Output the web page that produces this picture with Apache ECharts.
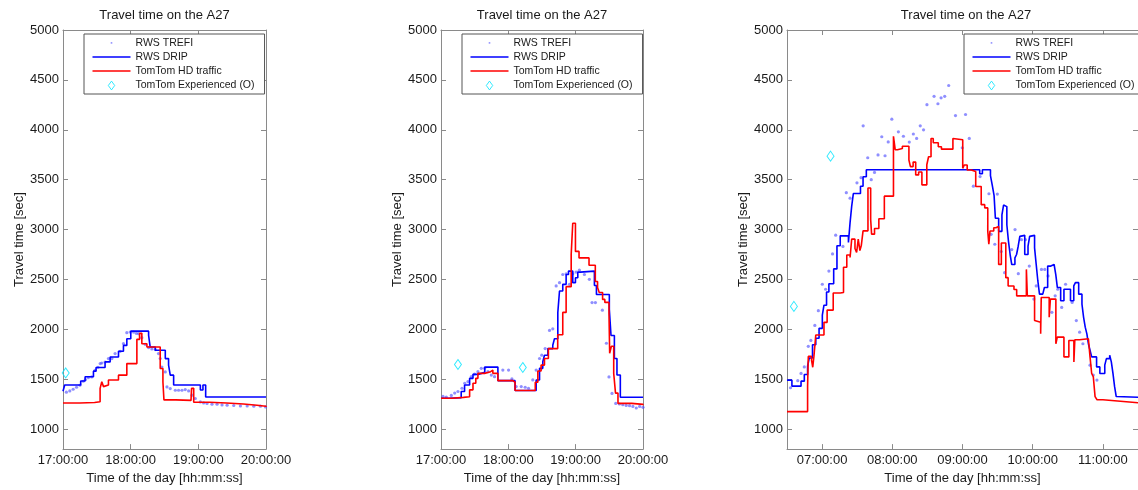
<!DOCTYPE html>
<html>
<head>
<meta charset="utf-8">
<title>Travel time on the A27</title>
<script src="https://cdn.jsdelivr.net/npm/echarts/dist/echarts.min.js"></script>
<style>
  html, body { margin: 0; padding: 0; background: #fff; }
  #chart { width: 1138px; height: 490px; }
</style>
</head>
<body>
<div id="chart"></div>
<script>
// Travel time on the A27: three time windows, four sources each.
// Times are minutes after the window start, values are travel times in seconds.

const seriesNames = ['RWS TREFI', 'RWS DRIP', 'TomTom HD traffic', 'TomTom Experienced (O)'];
const yTicks = [1000, 1500, 2000, 2500, 3000, 3500, 4000, 4500, 5000];

// ---- Window 1: 17:00 - 20:00 ----
const p1Window = ['17:00', '20:00'];
const p1Ticks = ['17:00', '18:00', '19:00', '20:00'];
const p1Trefi = [
  [3,1370],[6,1383],[9,1400],[12,1420],[15,1440],[18,1480],[20,1497],[22.5,1517],[25.5,1523],
  [28.4,1590],[31,1620],[33,1657],[34.4,1663],[37.3,1673],[40.3,1707],[43.3,1707],[46.2,1757],
  [50.7,1780],[53.6,1857],[56.6,1967],[59.6,1973],[62.5,1973],[65,1960],[67,1957],[69.9,1917],
  [72.9,1850],[75.9,1817],[78.8,1803],[81.8,1797],[84.7,1757],[86.2,1707],[87.7,1623],[90.7,1573],
  [92.2,1423],[95.1,1407],[99.6,1390],[102.5,1390],[105.5,1390],[108.4,1397],[111.4,1383],
  [114.4,1340],[117.3,1307],[121.8,1273],[124.7,1263],[127.7,1257],[132.1,1250],[136.6,1250],
  [141,1243],[145.5,1240],[151.4,1237],[157.3,1233],[163.3,1233],[169.2,1230],[175.1,1230],[179.6,1223]
];
const p1Drip = [
  [0,1380],[1.5,1442],[15.7,1482],[19.6,1525],[27,1581],[29.3,1618],[37.3,1674],[41.8,1723],
  [49.2,1780],[53.6,1839],[56.6,1906],[60.1,1982],[75.9,1940],[77.3,1823],[81.8,1790],[90.7,1707],
  [93.6,1641],[95.1,1541],[98.1,1442],[121.8,1392],[124.1,1442],[126.5,1322],[180,1322]
];
const p1HdTraffic = [
  [0,1262],[15,1267],[28,1275],[32.9,1409],[34.4,1475],[35.9,1426],[37.3,1442],[40.3,1492],
  [49.2,1541],[56.6,1657],[65.5,1900],[67.9,1960],[69.9,1856],[74.4,1823],[86.2,1608],[88.6,1473],
  [89.5,1293],[100,1288],[113.5,1278],[114,1409],[115.9,1270],[130,1262],[145,1252],[160,1240],
  [172,1230],[180,1222]
];
const p1Experienced = [[2.4,1563]];

// ---- Window 2: 17:00 - 20:00 ----
const p2Window = ['17:00', '20:00'];
const p2Ticks = ['17:00', '18:00', '19:00', '20:00'];
const p2Trefi = [
  [1.8,1328],[4.7,1321],[9.2,1338],[12.2,1361],[15.1,1377],[18.7,1410],[21.1,1460],[24,1476],
  [27,1526],[29.9,1552],[32.9,1576],[35.9,1609],[38.8,1609],[41.8,1576],[44.8,1542],[47.7,1526],
  [55.1,1592],[60.2,1592],[63.2,1503],[67,1427],[71.5,1427],[75,1420],[78,1410],[81.8,1493],
  [84.8,1592],[87.8,1708],[89.8,1741],[92.8,1807],[96.7,1989],[99.6,2005],[102.6,2435],[105.6,2468],
  [108.5,2550],[111.5,2557],[114.5,2451],[117.4,2557],[120.4,2574],[123.3,2593],[127.8,2550],
  [132.2,2501],[134.6,2268],[137.6,2268],[143.8,2192],[147.4,1861],[149.7,1523],[152.4,1358],
  [155.7,1258],[159,1252],[162,1245],[165,1238],[168,1235],[171,1228],[174,1212],[177,1228],[180,1219]
];
const p2Drip = [
  [0,1310],[7,1315],[18,1377],[21,1443],[25.5,1509],[28.5,1549],[33,1569],[39,1622],[50.7,1486],
  [66,1387],[84.8,1493],[87.8,1609],[90.7,1675],[92.2,1741],[95.2,1807],[99.6,1840],[101.1,1906],
  [104.1,2170],[105.6,2385],[108.5,2451],[111.5,2550],[113.6,2584],[117.4,2468],[119.8,2517],
  [121.9,2574],[124.2,2584],[136.7,2440],[138.5,2350],[150,2200],[151.5,1939],[154.5,1708],
  [156.8,1542],[159.8,1320],[180,1320]
];
const p2HdTraffic = [
  [0,1310],[10,1318],[20,1325],[25.5,1394],[28.5,1460],[31,1509],[32.9,1559],[38.8,1576],
  [44.2,1592],[46.2,1559],[50.7,1486],[64,1470],[66,1387],[84,1470],[86.3,1582],[89.2,1642],
  [92.2,1708],[95.7,1807],[104,1946],[108.5,2170],[111.5,2428],[116,2749],[117.4,3063],
  [119.8,2781],[123,2716],[131.9,2642],[137.5,2480],[139.5,2420],[141,2370],[144,2300],[146,2270],
  [149.7,2152],[150.3,1760],[151.8,1830],[153.9,1559],[155.5,1361],[157.7,1258],[170,1248],[180,1240]
];
const p2Experienced = [[15.1,1648],[72.9,1618]];

// ---- Window 3: 06:30 - 11:30 ----
const p3Window = ['06:30', '11:30'];
const p3Ticks = ['07:00', '08:00', '09:00', '10:00', '11:00'];
const p3Trefi = [
  [3,1415],[9.2,1486],[12,1558],[14.8,1624],[18.2,1830],[20.4,1889],[23.8,2039],[26.8,2187],
  [30.2,2452],[33,2402],[35.8,2584],[38.9,2756],[41.6,2944],[47.8,2831],[50.7,3370],[53.9,3315],
  [59.8,3468],[63.3,3520],[65.1,4040],[69,3720],[72,3500],[74.8,3573],[77.8,3748],[81,3930],
  [83.8,3740],[86.5,3878],[89.6,4106],[95.2,3980],[99.5,3935],[104.5,3877],[108,3958],[110.8,3913],
  [113.9,4040],[116.7,4000],[119.6,4252],[125.7,4335],[129,4261],[131.7,4320],[134.8,4335],
  [138.2,4444],[144,4142],[149.8,3820],[152.6,4153],[155.8,3913],[159.3,3435],[165,3531],
  [172.6,3359],[174.5,2952],[177.6,2853],[179.8,3356],[183.1,2780],[186,2568],[192.1,2800],
  [194.9,3000],[197.7,2558],[200.4,2899],[203.8,2899],[207.1,2634],[211,2303],[213,2435],
  [217.5,2601],[220.3,2601],[223.1,2535],[226.4,2171],[229.2,2336],[231.4,2402],[234.8,2220],
  [238.1,2452],[243.7,2270],[247.3,2088],[250.1,1972],[252.9,1856],[259,1641],[261.8,1542],[264.9,1492]
];
const p3Drip = [
  [0,1491],[4.2,1431],[12,1481],[14.8,1547],[17.6,1630],[19,1713],[21.8,1845],[24.6,1911],
  [27.4,2010],[30.2,2143],[31.6,2242],[33.8,2375],[35.8,2457],[39.9,2606],[42.7,2838],[45.5,2937],
  [52.5,2871],[53.9,3070],[55.3,3235],[56.7,3361],[62.8,3434],[65,3530],[67.8,3600],[164.7,3560],
  [167,3600],[173.9,3540],[175.5,3440],[177,3340],[178.1,3114],[180.9,2982],[183.7,3147],
  [185.1,3246],[186.5,3230],[187.9,3048],[189.3,2882],[190.7,2750],[192.1,2650],[194.8,2717],
  [196.2,2750],[197.6,2833],[199,2932],[200.4,2942],[203.2,2750],[206,2833],[207.4,2932],
  [208.8,2942],[211.6,2816],[213,2650],[214.4,2485],[215.8,2353],[218.6,2353],[220,2419],
  [222.8,2634],[225.5,2650],[228.3,2634],[229.7,2551],[231.1,2419],[233.9,2286],[236.7,2402],
  [239.5,2402],[242.3,2286],[245.1,2435],[246.5,2468],[249.3,2353],[252.1,2253],[253.5,2121],
  [254.9,2022],[256.3,1955],[257.6,1856],[259,1790],[260.4,1724],[264.6,1624],[267.4,1558],
  [271.6,1641],[273,1707],[275.8,1740],[277.2,1674],[278.6,1558],[280,1426],[281.4,1327],
  [282.8,1320],[300,1320]
];
const p3HdTraffic = [
  [0,1176],[17.6,1431],[18.2,1729],[21,1690],[22,1620],[23,1729],[24.6,1944],[31.6,2070],
  [34.3,2193],[39.5,2365],[45.5,2370],[48.3,2623],[51.1,2745],[53.9,2720],[55.3,2904],[58.1,2810],
  [59.5,2770],[60.9,2904],[62.3,2790],[63.5,2840],[65,2987],[69.2,3417],[71.5,3103],[72.3,2954],
  [74.8,3010],[78.5,3109],[83.2,3335],[91,3935],[92.5,3800],[94.4,3813],[98.6,3835],[104.2,3697],
  [105.5,3631],[107.8,3676],[110,3548],[112.5,3577],[115.3,3448],[119.5,3650],[121,3730],
  [123.1,3913],[125,3870],[129.3,3830],[132,3806],[141.8,3913],[143.5,3900],[150.2,3614],
  [151.5,3647],[154,3597],[157.5,3581],[161.3,3432],[166,3250],[169,3217],[171.6,2985],
  [172.5,2853],[173.5,2985],[176.7,3018],[178.5,3030],[180.9,2651],[183.2,2866],[187,2518],
  [189,2435],[194,2400],[196.3,2336],[204.6,2601],[205.4,2336],[211.6,2088],[213,2071],
  [216.8,1955],[217.3,2319],[224.1,2121],[225.1,2303],[229.8,1856],[231,1922],[236.7,1724],
  [240.9,1889],[245.2,1674],[246,1896],[250,1906],[257.6,1890],[259,1724],[260.4,1558],
  [261.8,1525],[263.3,1326],[265,1295],[270,1285],[280,1275],[290,1265],[300,1260]
];
const p3Experienced = [[5.9,2230],[37.2,3736]];

// ---- helpers ----
function toMinutes(hhmm) {
  const [h, m] = hhmm.split(':').map(Number);
  return h * 60 + m;
}
function clockLabel(mins) {
  const h = Math.floor(mins / 60), m = Math.round(mins % 60);
  return String(h).padStart(2, '0') + ':' + String(m).padStart(2, '0') + ':00';
}
function shift(points, startMin) {
  return points.map(p => [startMin + p[0], p[1]]);
}

const panels = [
  { win: p1Window, ticks: p1Ticks, trefi: p1Trefi, drip: p1Drip, hd: p1HdTraffic, exp: p1Experienced,
    left: 63, width: 203, legendLeft: 84 },
  { win: p2Window, ticks: p2Ticks, trefi: p2Trefi, drip: p2Drip, hd: p2HdTraffic, exp: p2Experienced,
    left: 441, width: 202, legendLeft: 462 },
  { win: p3Window, ticks: p3Ticks, trefi: p3Trefi, drip: p3Drip, hd: p3HdTraffic, exp: p3Experienced,
    left: 787, width: 358, legendLeft: 964 }
];

const FONT = '"Liberation Sans", Arial, Helvetica, sans-serif';
const AXIS_GREY = '#8a8a8a';
const TEXT = '#1a1a1a';
const GRID_TOP = 30, GRID_H = 423;
const TREFI_COLOR = 'rgba(80,80,255,0.8)';

const option = {
  backgroundColor: '#fff',
  animation: false,
  textStyle: { fontFamily: FONT },
  title: [], grid: [], xAxis: [], yAxis: [], legend: [], series: []
};

const legendIcons = {
  'RWS TREFI': 'path://M0,0M38,12M18.2,5.1L19.8,5.1L19.8,6.7L18.2,6.7Z',
  'RWS DRIP': 'path://M0,0M38,12M0,5.2L38,5.2L38,6.8L0,6.8Z',
  'TomTom HD traffic': 'path://M0,0M38,12M0,5.2L38,5.2L38,6.8L0,6.8Z',
  'TomTom Experienced (O)': 'path://M0,0M38,12M19,1.6L22.2,6L19,10.4L15.8,6Z'
};
const legendStyles = {
  'RWS TREFI': { color: TREFI_COLOR, borderWidth: 0 },
  'RWS DRIP': { color: '#0000ff', borderWidth: 0 },
  'TomTom HD traffic': { color: '#ff0000', borderWidth: 0 },
  'TomTom Experienced (O)': { color: 'rgba(0,0,0,0)', borderColor: '#00e5ff', borderWidth: 1 }
};

panels.forEach((p, i) => {
  const start = toMinutes(p.win[0]);
  const end = toMinutes(p.win[1]);
  const tickVals = p.ticks.map(toMinutes);

  option.title.push({
    text: 'Travel time on the A27',
    left: p.left + p.width / 2,
    top: 9,
    textAlign: 'center',
    padding: 0,
    textStyle: { fontSize: 13, fontWeight: 'normal', color: TEXT, fontFamily: FONT }
  });

  option.grid.push({ left: p.left, top: GRID_TOP, width: p.width, height: GRID_H, containLabel: false });

  const lineCommon = { show: true, lineStyle: { color: AXIS_GREY, width: 1 } };
  const tickCommon = { show: true, inside: true, length: 5, lineStyle: { color: AXIS_GREY } };

  // bottom time axis with labels
  option.xAxis.push({
    type: 'value', gridIndex: i, position: 'bottom', min: start, max: end,
    axisLine: lineCommon,
    axisTick: Object.assign({ customValues: tickVals }, tickCommon),
    axisLabel: { customValues: tickVals, formatter: clockLabel, margin: 5, fontSize: 13, color: TEXT, fontFamily: FONT },
    splitLine: { show: false },
    name: 'Time of the day [hh:mm:ss]', nameLocation: 'middle', nameGap: 20,
    nameTextStyle: { fontSize: 13, color: TEXT, fontFamily: FONT }
  });
  // top edge of the box
  option.xAxis.push({
    type: 'value', gridIndex: i, position: 'top', min: start, max: end,
    axisLine: lineCommon,
    axisTick: Object.assign({ customValues: tickVals }, tickCommon),
    axisLabel: { show: false }, splitLine: { show: false }
  });
  // left travel-time axis with labels
  option.yAxis.push({
    type: 'value', gridIndex: i, position: 'left', min: 800, max: 5000,
    axisLine: lineCommon,
    axisTick: Object.assign({ customValues: yTicks }, tickCommon),
    axisLabel: { customValues: yTicks, formatter: v => String(v), margin: 4, fontSize: 13, color: TEXT, fontFamily: FONT },
    splitLine: { show: false },
    name: 'Travel time [sec]', nameLocation: 'middle', nameGap: 37, nameRotate: 90,
    nameTextStyle: { fontSize: 13, color: TEXT, fontFamily: FONT }
  });
  // right edge of the box
  option.yAxis.push({
    type: 'value', gridIndex: i, position: 'right', min: 800, max: 5000,
    axisLine: lineCommon,
    axisTick: Object.assign({ customValues: yTicks }, tickCommon),
    axisLabel: { show: false }, splitLine: { show: false }
  });

  const xIdx = i * 2, yIdx = i * 2;

  option.series.push({
    name: 'RWS TREFI', type: 'scatter', xAxisIndex: xIdx, yAxisIndex: yIdx,
    data: shift(p.trefi, start), symbol: 'circle', symbolSize: 3.2,
    itemStyle: { color: TREFI_COLOR }, silent: true, z: 2
  });
  option.series.push({
    name: 'RWS DRIP', type: 'line', step: 'end', xAxisIndex: xIdx, yAxisIndex: yIdx,
    data: shift(p.drip, start), showSymbol: false, symbol: 'none',
    lineStyle: { color: '#0000ff', width: 1.6 }, itemStyle: { color: '#0000ff' }, silent: true, z: 3
  });
  option.series.push({
    name: 'TomTom HD traffic', type: 'line', step: 'end', xAxisIndex: xIdx, yAxisIndex: yIdx,
    data: shift(p.hd, start), showSymbol: false, symbol: 'none',
    lineStyle: { color: '#ff0000', width: 1.6 }, itemStyle: { color: '#ff0000' }, silent: true, z: 4
  });
  option.series.push({
    name: 'TomTom Experienced (O)', type: 'scatter', xAxisIndex: xIdx, yAxisIndex: yIdx,
    data: shift(p.exp, start), symbol: 'diamond', symbolSize: [7, 10],
    itemStyle: { color: 'rgba(0,0,0,0)', borderColor: '#00e5ff', borderWidth: 1 }, silent: true, z: 5
  });

  option.legend.push({
    left: p.legendLeft, top: 34, orient: 'vertical',
    itemWidth: 38, itemHeight: 12, itemGap: 2,
    padding: [3, 10, 2, 8],
    borderColor: '#555', borderWidth: 1, backgroundColor: '#fff',
    selectedMode: false, z: 10,
    textStyle: { fontSize: 10.5, color: TEXT, fontFamily: FONT },
    data: seriesNames.map(n => ({ name: n, icon: legendIcons[n], itemStyle: legendStyles[n] }))
  });
});

const chart = echarts.init(document.getElementById('chart'), null, { renderer: 'canvas' });
chart.setOption(option);
</script>
</body>
</html>
